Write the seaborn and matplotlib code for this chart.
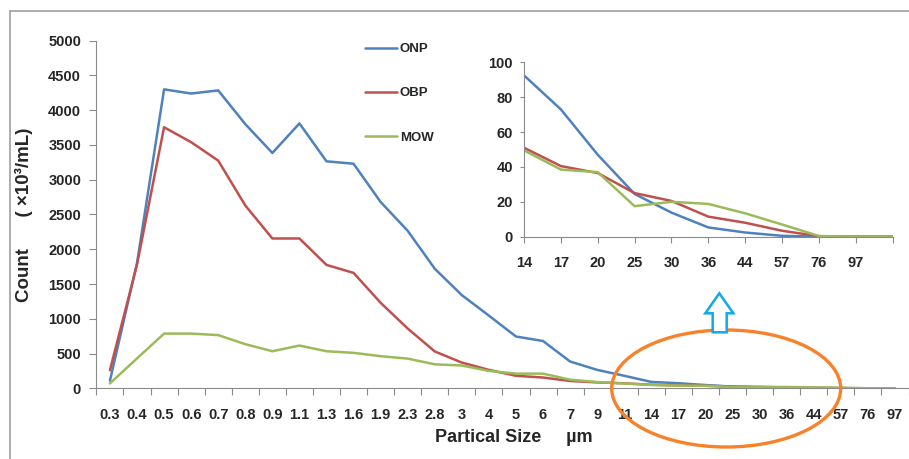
import numpy as np
import pandas as pd
import matplotlib
matplotlib.use('Agg')
import matplotlib.pyplot as plt
import seaborn as sns
from matplotlib.patches import Ellipse, Polygon
from matplotlib.lines import Line2D

# ---------------- data ----------------
sizes = ['0.3', '0.4', '0.5', '0.6', '0.7', '0.8', '0.9', '1.1', '1.3', '1.6',
         '1.9', '2.3', '2.8', '3', '4', '5', '6', '7', '9', '11',
         '14', '17', '20', '25', '30', '36', '44', '57', '76', '97']
onp = [110, 1800, 4300, 4240, 4285, 3800, 3385, 3810, 3265, 3230,
       2680, 2265, 1720, 1340, 1045, 745, 680, 385, 265, 180,
       92, 73, 47, 24, 14, 5, 2, 0.5, 0, 0]
obp = [260, 1780, 3755, 3540, 3275, 2630, 2155, 2155, 1775, 1660,
       1230, 860, 530, 370, 265, 180, 155, 105, 85, 72,
       51, 40.5, 36.5, 25, 20.5, 11.5, 8, 3.4, 0.3, 0]
mow = [70, 430, 787, 787, 765, 635, 533, 615, 533, 510,
       462, 427, 345, 328, 250, 211, 211, 124, 90, 68,
       49.5, 38.5, 37, 17.5, 20, 18.8, 13.4, 7, 0.4, 0]

inset_sizes = ['14', '17', '20', '25', '30', '36', '44', '57', '76', '97', '']
inset_onp = [92.5, 73, 47, 24.5, 13.8, 5.3, 2.4, 0.5, 0, 0, 0]
inset_obp = [51, 40.5, 36.5, 25, 20.5, 11.5, 8, 3.4, 0.3, 0, 0]
inset_mow = [49.5, 38.5, 37, 17.5, 20, 18.8, 13.4, 7, 0.4, 0, 0]

series_names = ['ONP', 'OBP', 'MOW']
colors = ['#4F81BD', '#C0504D', '#9BBB59']
y_ticks = [0, 500, 1000, 1500, 2000, 2500, 3000, 3500, 4000, 4500, 5000]
inset_y_ticks = [0, 20, 40, 60, 80, 100]

# ---------------- style ----------------
sns.set_style('ticks')
plt.rcParams['font.family'] = ['Liberation Sans', 'DejaVu Sans']
GRAY = '#8a8a8a'

W, H = 909, 459
fig = plt.figure(figsize=(W / 100, H / 100), dpi=100)


def px(x0, y0, x1, y1):
    return [x0 / W, 1 - y1 / H, (x1 - x0) / W, (y1 - y0) / H]


palette = dict(zip(series_names, colors))

# ---------------- main chart ----------------
ax = fig.add_axes(px(96.4, 40.7, 908.5, 388.3))
n = len(sizes)
df = pd.DataFrame({
    'pos': np.tile(np.arange(n), 3),
    'value': onp + obp + mow,
    'sample': np.repeat(series_names, n),
})
sns.lineplot(data=df, x='pos', y='value', hue='sample', hue_order=series_names,
             palette=palette, linewidth=1.8, ax=ax, legend=True)

ax.set_xlim(-0.5, n - 0.5)
ax.set_ylim(0, 5000)
ax.set_xticks(np.arange(-0.5, n, 1.0))
ax.set_xticklabels([''] * len(np.arange(-0.5, n, 1.0)))
ax.set_xticks(np.arange(n), minor=True)
ax.set_xticklabels(sizes, minor=True)
ax.set_yticks(y_ticks)
ax.set_yticklabels([str(v) for v in y_ticks])
ax.tick_params(axis='x', which='major', length=5, width=0.8, color=GRAY, direction='out')
ax.tick_params(axis='x', which='minor', length=0, pad=14)
ax.tick_params(axis='y', which='major', length=5, width=0.8, color=GRAY, direction='out', pad=6)
for lbl in ax.get_xticklabels(minor=True):
    lbl.set_fontfamily(['Liberation Sans Narrow', 'Liberation Sans', 'DejaVu Sans'])
    lbl.set_fontweight('bold')
    lbl.set_fontsize(10.5)
for lbl in ax.get_yticklabels():
    lbl.set_fontweight('bold')
    lbl.set_fontsize(10.5)
for s in ['top', 'right']:
    ax.spines[s].set_visible(False)
for s in ['left', 'bottom']:
    ax.spines[s].set_color(GRAY)
    ax.spines[s].set_linewidth(0.8)
ax.set_xlabel('')
ax.set_ylabel('Count      ( \u00d710\u00b3/mL)', fontsize=13.5, fontweight='bold')
ax.yaxis.set_label_coords((33 - 96.4) / 812.1, 0.5)

fig.text(514 / W, 1 - 437 / H, 'Partical Size     \u00b5m', ha='center', va='center',
         fontsize=13, fontweight='bold')

handles, labels = ax.get_legend_handles_labels()
ax.legend(handles, labels, loc='upper left', bbox_to_anchor=(365 / W, 1 - 43 / H),
          bbox_transform=fig.transFigure, frameon=False, borderpad=0, borderaxespad=0,
          handlelength=2.4, handletextpad=0.25, labelspacing=2.42,
          prop={'weight': 'bold', 'size': 9.5})

# ---------------- inset ----------------
ax2 = fig.add_axes(px(524, 62.3, 892.7, 236.7))
ax2.patch.set_alpha(0)
m = len(inset_sizes)
df2 = pd.DataFrame({
    'pos': np.tile(np.arange(m), 3),
    'value': inset_onp + inset_obp + inset_mow,
    'sample': np.repeat(series_names, m),
})
sns.lineplot(data=df2, x='pos', y='value', hue='sample', hue_order=series_names,
             palette=palette, linewidth=1.8, ax=ax2, legend=False)
ax2.set_xlim(0, m - 1)
ax2.set_ylim(0, 100)
ax2.set_xticks(np.arange(m))
ax2.set_xticklabels(inset_sizes)
ax2.set_yticks(inset_y_ticks)
ax2.set_yticklabels([str(v) for v in inset_y_ticks])
ax2.tick_params(axis='x', length=4, width=0.8, color=GRAY, direction='out', pad=10)
ax2.tick_params(axis='y', length=3, width=0.8, color=GRAY, direction='out', pad=5)
for lbl in ax2.get_xticklabels() + ax2.get_yticklabels():
    lbl.set_fontweight('bold')
    lbl.set_fontsize(10.5)
for s in ['top', 'right']:
    ax2.spines[s].set_visible(False)
for s in ['left', 'bottom']:
    ax2.spines[s].set_color(GRAY)
    ax2.spines[s].set_linewidth(0.8)
ax2.set_xlabel('')
ax2.set_ylabel('')

# ---------------- annotations ----------------
ell = Ellipse(xy=(726.2 / W, 1 - 388.5 / H), width=229 / W, height=117 / H,
              transform=fig.transFigure, fill=False, edgecolor='#F7822A', linewidth=2.4,
              zorder=5)
fig.add_artist(ell)

arrow_px = [(719.3, 293.3), (733.3, 313.3), (726.7, 313.3), (726.7, 332.3),
            (712.7, 332.3), (712.7, 313.3), (705.3, 313.3)]
arrow = Polygon([(x / W, 1 - y / H) for x, y in arrow_px], closed=True,
                transform=fig.transFigure, facecolor='white', edgecolor='#12A8EC',
                linewidth=1.8, zorder=6)
fig.add_artist(arrow)

# chart-area frame (left and top edges visible)
fig.add_artist(Line2D([10 / W, 10 / W], [0, 1 - 11 / H], transform=fig.transFigure,
                      color='#a0a0a0', linewidth=1.2))
fig.add_artist(Line2D([10 / W, 1], [1 - 11 / H, 1 - 11 / H], transform=fig.transFigure,
                      color='#a0a0a0', linewidth=1.2))

fig.savefig('out.png', dpi=100)
